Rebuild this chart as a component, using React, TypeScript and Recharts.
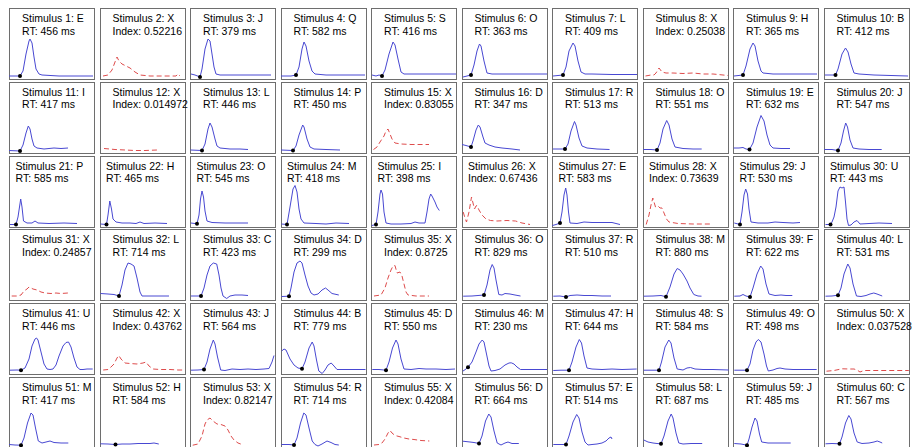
import React from "react";
import { LineChart, Line, XAxis, YAxis } from "recharts";

// stimulus letters, 1..60
const letters = [
  "E", "X", "J", "Q", "S", "O", "L", "X", "H", "B",
  "I", "X", "L", "P", "X", "D", "R", "O", "E", "J",
  "P", "H", "O", "M", "I", "X", "E", "X", "J", "U",
  "X", "L", "C", "D", "X", "O", "R", "M", "F", "L",
  "U", "X", "J", "B", "D", "M", "H", "S", "O", "X",
  "M", "H", "X", "R", "X", "D", "E", "L", "J", "C",
];

// RT in ms for letters, index for X
const scores = [
  456, 0.52216, 379, 582, 416, 363, 409, 0.25038, 365, 412,
  417, 0.014972, 446, 450, 0.83055, 347, 513, 551, 632, 547,
  585, 465, 545, 418, 398, 0.67436, 583, 0.73639, 530, 443,
  0.24857, 714, 423, 299, 0.8725, 829, 510, 880, 622, 531,
  446, 0.43762, 564, 779, 550, 230, 644, 584, 498, 0.037528,
  417, 584, 0.82147, 714, 0.42084, 664, 514, 687, 485, 567,
];

// onset sample (time) marked with a dot, null for X trials
const onsets: (number | null)[] = [
  11, null, 10, 15, 11, 9, 11, null, 10, 11.5,
  11, null, 12, 12, null, 9, 13, 14, 16.5, 14,
  7, 6.5, 7, 6, 5, null, 8, null, 7, 6.5,
  null, 19, 11, 8, null, 22, 14, 23, 17, 14,
  12, null, 14, 21, 15, 6, 17, 16, 14, null,
  12, 15.5, null, 13, null, 17, 14, 18, 14, 15.5,
];

type Trace = number[][];

const row1Traces: Trace[] = [
  [[0, 3], [11, 3], [14, 8], [17, 25], [20, 38], [21, 40], [23, 36], [25, 22], [27, 10], [30, 5], [33, 4], [50, 3], [84, 3]],
  [[3, 3], [8, 4], [12, 9], [15, 17], [17, 22], [19, 18], [22, 15], [26, 13], [30, 11], [35, 7], [40, 4], [50, 3], [60, 3], [76, 3], [78, 5], [80, 3]],
  [[1, 5], [5, 4], [10, 2], [12, 10], [15, 30], [18, 40], [20, 38], [22, 25], [24, 12], [26, 5], [30, 4], [81, 4]],
  [[0, 3], [10, 3], [15, 4], [18, 12], [21, 30], [23, 37], [25, 33], [28, 18], [31, 8], [34, 5], [45, 4], [84, 4]],
  [[1, 4], [5, 3], [8, 4], [11, 3], [14, 9], [18, 25], [22, 37], [24, 34], [27, 20], [30, 7], [33, 5], [85, 5]],
  [[1, 2], [9, 4], [12, 14], [15, 28], [17.5, 35], [19, 33], [22, 18], [25, 6], [30, 5], [85, 5]],
  [[1, 3], [6, 3.5], [11, 4], [14, 12], [17, 28], [21, 36], [23, 33], [26, 18], [29, 7], [33, 5], [40, 5], [60, 4.5], [85, 4.5]],
  [[2.5, 3], [8, 4], [11, 4], [13, 6], [16, 11], [19, 7], [23, 6], [30, 6], [40, 5.5], [50, 6], [60, 5], [70, 5], [85, 3.5]],
  [[1, 3], [10, 4], [13, 13], [17, 30], [20, 36], [22, 33], [25, 18], [28, 8], [30, 6], [40, 5], [84, 5]],
  [[1, 4], [11.5, 4], [14, 10], [18, 25], [21.5, 31], [24, 27], [27, 15], [30, 6], [35, 5], [50, 4], [84, 3]],
];

const row2Traces: Trace[] = [
  [[0, 2.5], [11, 2], [14, 8], [17, 20], [19.3, 27], [21, 24], [23, 14], [25, 7], [28, 5], [35, 4], [45, 5], [52, 4.5], [59, 5]],
  [[4, 4.5], [15, 3.5], [25, 3], [35, 2.5], [45, 2.5], [57, 3]],
  [[0.5, 3], [12, 2.5], [15, 9], [18, 24], [20, 30], [22, 26], [25, 14], [27, 7], [30, 5], [40, 4], [50, 4], [58, 3.5]],
  [[0, 3], [12, 2.5], [15, 7], [18, 18], [21.7, 28], [23, 26], [26, 14], [29, 6], [33, 4], [45, 3.5], [59, 3]],
  [[2.5, 3.5], [6, 6], [9, 11], [13, 17], [15, 22], [17, 24], [19, 19], [21, 14], [24, 10], [30, 9], [40, 8.5], [58, 8.5]],
  [[0, 8.5], [4, 7.5], [9, 6], [11, 12], [14, 23], [16.3, 28], [18, 26], [21, 16], [23, 10], [27, 8], [33, 6], [40, 5], [50, 4], [58, 3]],
  [[1, 4], [8, 4], [13, 4], [16, 9], [19, 22], [22.5, 31.5], [24, 28], [27, 15], [30, 7], [35, 5], [45, 4], [57.5, 3.5]],
  [[0.3, 3.5], [8, 3.5], [14, 3], [17, 10], [20, 24], [23.7, 32.5], [26, 28], [29, 14], [32, 6], [40, 4.5], [50, 4], [58.7, 4]],
  [[0.8, 5], [6, 5], [10, 5.5], [13, 4], [16.5, 3.5], [20, 10], [24, 26], [28, 37.5], [31, 32], [34, 18], [37, 8], [40, 5], [48, 4.5], [57, 4.5]],
  [[0.3, 3.5], [8, 3.5], [14, 2.5], [17, 10], [19.5, 22], [21.7, 30], [23.5, 26], [26, 13], [29, 5], [35, 4], [45, 3.5], [57.7, 3.5]],
];

const row3Traces: Trace[] = [
  [[1, 2.5], [7, 2.5], [9, 10], [11.7, 28], [13, 20], [14.5, 6], [18, 4], [23, 4], [26, 6], [29, 4], [40, 3.5], [55, 4], [68, 3.5]],
  [[0.5, 3], [6.5, 2.5], [8, 12], [9.8, 26], [11.5, 18], [13, 8], [16, 5], [22, 4], [30, 4], [36, 3.5], [40, 5], [44, 3.5], [55, 4], [67, 3.5]],
  [[1, 4], [7, 3.2], [9, 12], [10.5, 28], [12, 36], [13.5, 30], [15, 16], [17, 6], [22, 4.5], [35, 4], [58, 4]],
  [[0.5, 3], [6, 2.5], [9, 20], [12, 38], [14, 41.5], [16, 35], [18, 18], [20, 8], [23, 4], [35, 3.5], [45, 3], [55, 4], [68, 3.5]],
  [[0.7, 1.5], [5, 2.5], [7, 15], [9, 33], [10, 37], [11.5, 33], [13, 15], [15, 4], [20, 3], [30, 3], [40, 3.5], [44, 5], [48, 4], [54, 4], [56, 15], [58, 28], [59.7, 33], [61, 31], [64, 25], [66, 20], [68.3, 16.5]],
  [[1.2, 15], [3, 9], [4.5, 5], [7, 15], [9.5, 30], [11, 24], [12.5, 18], [14, 21], [15, 21.5], [17, 17], [20, 12], [24, 8], [28.5, 6.5], [35, 6], [45, 6.5], [53.5, 6], [60, 4], [68, 2.5]],
  [[0.3, 1.5], [4, 2.5], [8, 4], [10, 15], [12, 32], [13.7, 39], [15, 32], [16.5, 15], [18, 4], [25, 3.5], [32, 5], [40, 4.5], [50, 4.5], [60, 4.5], [68, 2.5]],
  [[3.2, 2.5], [6, 12], [8, 22], [9.8, 29], [11, 25], [12.5, 20], [15, 21], [17, 19], [19, 19], [21, 14], [23.5, 8], [26, 5], [35, 3.5], [50, 3], [69, 3]],
  [[1.3, 4], [7, 2.5], [9, 15], [11, 32], [12.7, 38], [14.5, 33], [16, 18], [18, 5], [25, 4], [35, 4], [42, 5], [50, 4.5], [60, 4], [67, 4.5]],
  [[1.5, 2.5], [6.5, 2.5], [8, 5], [10, 10], [12, 20], [14, 36], [16, 40], [18, 39], [20, 40], [21.5, 25], [23, 8], [24.5, 1.5], [27, 2], [30, 5], [33, 6.5], [36, 3], [45, 3.5], [55, 4], [68, 3.5]],
];

const row4Traces: Trace[] = [
  [[2.7, 4], [8, 4], [12, 5], [15, 9], [18, 11], [20, 13], [24, 11], [28, 10], [32, 8], [36, 7], [42, 6.5], [47, 7], [52, 6.5], [59, 7]],
  [[0.5, 6.5], [8, 6], [14, 5.5], [19, 4], [22, 15], [25, 30], [28, 37], [31, 36], [34, 34], [37, 22], [40, 8], [42, 4], [50, 4], [60, 4], [69, 4]],
  [[1, 4], [11, 4], [14, 12], [17, 25], [20, 34], [23.3, 37], [26.7, 36], [29, 25], [31, 12], [33, 4], [36.7, 1.5], [40, 4], [45, 5], [52, 5], [58, 4.5]],
  [[0.5, 3.5], [8, 3.8], [10, 12], [13, 28], [16, 37], [19, 39], [21, 37], [24, 25], [27, 14], [30, 7], [33, 5], [37, 6], [41, 10], [44.5, 12], [47, 10], [51, 6.5], [57.8, 5]],
  [[3, 4], [10, 5], [14, 12], [17, 22], [20, 30], [22, 34], [24, 34.5], [26, 27], [29, 28], [31, 24], [33, 16], [35, 8], [37, 5], [45, 4], [58, 4]],
  [[1.2, 3.8], [10, 4], [16, 4.5], [22, 5], [25, 15], [28, 30], [30.2, 35.5], [32, 32], [34, 20], [36.8, 5.5], [40, 5], [43, 6.5], [48, 6], [53, 5], [58.5, 4]],
  [[1.3, 3.8], [8, 4], [14, 3], [18, 4.5], [25, 5], [32, 4.5], [40, 4.5], [50, 4], [59, 4]],
  [[0.8, 3.8], [10, 4], [18, 4.5], [23, 3.2], [27, 13], [31, 26], [34.2, 31.5], [37, 30], [40, 26], [44, 19], [47, 12], [50.8, 5.5], [55, 4], [58.5, 3.8]],
  [[1.3, 3.8], [7, 4], [10, 5.5], [13, 4], [17, 3], [20, 12], [24, 26], [27.7, 34], [30, 31], [33, 16], [36, 6], [42, 4.5], [48, 5], [53, 4.5], [59.3, 4.5]],
  [[1.5, 3.8], [8, 4], [14, 4.8], [17, 12], [20, 26], [23.8, 36], [26, 32], [29, 16], [32.5, 4], [37, 3.5], [42, 4.5], [46, 6], [49.8, 7], [53, 6], [58.2, 4]],
];

const row5Traces: Trace[] = [
  [[1, 3.8], [8, 4], [12, 3.8], [16, 6], [20, 15], [23, 28], [26, 35], [27.5, 36], [29, 34], [32, 22], [35, 10], [38, 5], [41, 4.5], [44, 5], [47, 9], [50, 18], [54, 28], [57, 31.5], [59.5, 32], [62, 27], [65, 16], [68, 7], [71, 4.5], [74, 4.5], [78, 5], [83.7, 5]],
  [[3.2, 4], [8, 4.5], [11, 7], [14, 10], [17, 16], [18.8, 18.5], [21, 15], [25, 11], [30, 10.5], [37, 10], [43, 11], [46, 12], [49, 8], [53, 5], [60, 4.5], [70, 4.5], [78, 4], [84.5, 4]],
  [[1, 3.8], [8, 4], [14, 4.5], [17, 12], [20, 25], [23.3, 34], [25, 30], [27.5, 17], [30.7, 4], [35, 3.5], [42, 5], [50, 4.5], [58, 5], [66, 4.5], [74, 5], [79, 5.5], [82, 12], [84, 18.5]],
  [[0.7, 23], [3, 25], [5, 24], [9, 15], [13, 9], [17, 6], [21, 5.2], [24, 12], [28, 26], [31.2, 32], [33, 28], [35.5, 14], [37.8, 3], [41.2, 0.5], [44, 4], [47, 9], [50.2, 11], [53, 8], [56, 4.5], [65, 4.5], [75, 4.5], [84.5, 4.5]],
  [[1.3, 4.5], [8, 4.5], [15, 3.8], [18, 12], [21.5, 26], [25, 34], [27, 30], [30, 15], [33, 5], [40, 4.5], [48, 5.5], [55, 5], [65, 5], [75, 4.5], [84, 5]],
  [[0.8, 2.8], [4, 5], [6, 6.8], [10, 12], [14, 22], [17, 30], [20.2, 34], [22, 32], [24.5, 20], [27, 8], [29, 3], [33, 3.5], [38, 5], [43, 9], [47, 11], [49.2, 11.2], [52, 10], [55, 7], [58.5, 4.5], [70, 4.5], [85, 4.5]],
  [[1.3, 3.5], [9, 3.8], [17, 3.8], [20, 12], [24, 27], [27.3, 34.5], [29.5, 31], [32, 18], [35, 6], [40, 5], [50, 4.5], [60, 5], [70, 4.5], [84.7, 5]],
  [[0.8, 3.8], [8, 3.8], [16, 3.8], [18.5, 12], [22, 27], [25.8, 34], [28, 31], [31, 16], [34.2, 5], [40, 4], [44, 6], [47.5, 6.5], [52, 5], [60, 4.5], [70, 4.5], [85.8, 4]],
  [[1.3, 3.8], [8, 3.8], [14, 3.8], [17, 10], [20, 24], [23, 32], [25.3, 34.5], [28, 32], [31, 20], [33.5, 8], [35.3, 3], [40, 4], [44, 5.5], [47, 6], [52, 5], [60, 4.5], [70, 4.5], [83.7, 4.5]],
  [[2.5, 2.8], [10, 3.5], [18, 5.2], [25, 5], [30, 5], [33, 4], [36, 2], [40, 3.5], [50, 3.5], [60, 3.5], [70, 3.5], [84.8, 3.5]],
];

const row6Traces: Trace[] = [
  [[0, 3.5], [6, 3], [12, 2.8], [15, 10], [18.5, 25], [22, 35], [24, 33], [26.5, 20], [29.3, 7], [33, 5], [37, 6], [41, 7], [45, 5.5], [52, 5], [59.3, 5]],
  [[0.5, 4.2], [8, 4], [15.5, 3.5], [22, 4], [30, 4], [38, 4.5], [45, 4.5], [50, 4.5], [54, 5], [58.8, 4]],
  [[2.7, 2.8], [8, 4], [12, 12], [15, 24], [17, 28], [20, 30], [23, 27], [27, 24], [31, 23.5], [35, 22], [38, 18], [41, 12], [44, 8], [48, 5], [53.3, 3]],
  [[0.5, 3.5], [8, 3.5], [13, 3], [16, 10], [19.5, 25], [22.8, 35], [25, 33], [28, 20], [31.2, 7], [34, 3.5], [37, 2], [41, 4], [46, 7], [50, 5.5], [54, 3.5], [57.8, 3]],
  [[3, 3], [8, 3.5], [11, 5], [14, 9], [17, 15], [19, 17.5], [21, 15], [24, 12.5], [28, 11.5], [33, 10], [38, 9], [43, 8.5], [50, 7.5], [58.3, 7]],
  [[0.8, 6.8], [8, 6], [12, 5.5], [17, 4.5], [20, 12], [23.5, 27], [26.8, 34], [29, 31], [32, 17], [35.2, 5], [39, 3], [43, 5], [46, 6], [50, 4.5], [56.8, 4.5]],
  [[1.3, 3.5], [8, 3.5], [14, 3.5], [17, 12], [21, 26], [24.7, 33.5], [27, 30], [30, 16], [33, 6], [36, 3], [40, 3.5], [45, 4], [50, 5], [54, 7], [57, 10], [59, 11], [60, 9]],
  [[0.8, 8], [5, 6], [10, 5], [14, 4.5], [18, 4.2], [21, 12], [25, 27], [28.2, 34], [30, 30], [33, 15], [35.8, 5], [40, 4], [48, 4.5], [59.2, 4.5]],
  [[1.3, 4.5], [8, 4], [14, 2.8], [16, 9], [19, 21], [22, 30], [24, 27], [26.5, 14], [28.7, 6], [35, 5], [45, 5], [57.7, 5]],
  [[1.5, 4.2], [8, 4.5], [15.5, 4.2], [18, 11], [21.5, 25], [24.8, 32.5], [27, 29], [30, 15], [33.2, 6], [38, 4.5], [45, 5], [50, 6], [53.2, 7], [56, 6], [58.2, 5]],
];

const traces = [...row1Traces, ...row2Traces, ...row3Traces, ...row4Traces, ...row5Traces, ...row6Traces];

const CELL_W = 86;
const CELL_H = 72;
const PITCH_X = 90.5;
const PITCH_Y = 73.8;
const ORIGIN_X = 9;
const ORIGIN_Y = 8;

const BLUE = "#4848d2";
const RED = "#de4c4c";

const Panel = ({ i }: { i: number }) => {
  const col = i % 10;
  const row = Math.floor(i / 10);
  const isX = letters[i] === "X";
  const onset = onsets[i];
  const data = traces[i].map(([t, v]) => ({ t, v }));

  const renderDot = (p: any) => {
    if (onset == null || p.payload?.t !== onset) return <g key={`n${p.index}`} />;
    return <circle key={`d${p.index}`} cx={p.cx} cy={p.cy} r={2} fill="#000" stroke="none" />;
  };

  return (
    <div
      style={{
        position: "absolute",
        left: ORIGIN_X + col * PITCH_X,
        top: ORIGIN_Y + row * PITCH_Y,
        width: CELL_W,
        height: CELL_H,
      }}
    >
      <div
        style={{
          position: "absolute",
          inset: 0,
          border: "1px solid #6e6e6e",
          boxSizing: "border-box",
        }}
      />
      <div style={{ position: "absolute", left: 0, top: 0 }}>
        <LineChart
          width={CELL_W}
          height={CELL_H}
          data={data}
          margin={{ top: 0, right: 0, bottom: 0, left: 0 }}
        >
          <XAxis dataKey="t" type="number" domain={[0, CELL_W]} hide />
          <YAxis type="number" domain={[-1, 71]} hide />
          <Line
            type="linear"
            dataKey="v"
            stroke={isX ? RED : BLUE}
            strokeWidth={1}
            strokeDasharray={isX ? "5 3" : undefined}
            dot={renderDot}
            activeDot={false}
            isAnimationActive={false}
          />
        </LineChart>
      </div>
      <div
        style={{
          position: "absolute",
          left: row === 2 ? 6.5 : 13,
          top: 4,
          fontFamily: "Arial, 'Liberation Sans', sans-serif",
          fontSize: 10.5,
          lineHeight: "12.5px",
          color: "#000",
          whiteSpace: "nowrap",
        }}
      >
        <div>{`Stimulus ${i + 1}: ${letters[i]}`}</div>
        <div>{isX ? `Index: ${scores[i]}` : `RT: ${scores[i]} ms`}</div>
      </div>
    </div>
  );
};

export default function App() {
  return (
    <>
      <style>{"body{margin:0;overflow:hidden;background:#fff}"}</style>
      <div style={{ position: "relative", width: 913, height: 447, overflow: "hidden", background: "#fff" }}>
        {letters.map((_, i) => (
          <Panel key={i} i={i} />
        ))}
      </div>
    </>
  );
}
